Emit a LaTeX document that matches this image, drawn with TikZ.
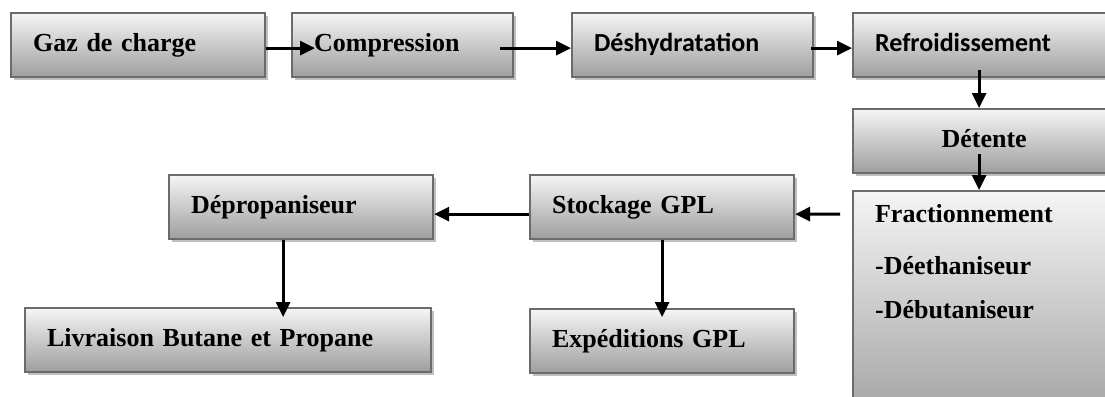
\documentclass[tikz,border=0pt]{standalone}
\usepackage{fontspec}
\setmainfont{Liberation Serif}
\newfontfamily\calibfont{Carlito}
\usetikzlibrary{arrows.meta,shadows}
\tikzset{
  procbox/.style={rectangle, draw=black!58, line width=2.2pt, top color=black!4, bottom color=black!38,
    drop shadow={shadow xshift=3pt, shadow yshift=-3pt, fill=black!25, opacity=1},
    anchor=north west, inner xsep=22pt, inner ysep=0pt, minimum height=64pt, align=left,
    font=\fontsize{26}{31}\selectfont\bfseries},
  textrow/.style={text height=18pt, text depth=6pt},
  flow/.style={line width=3pt, -{Triangle[length=15pt,width=14pt]}}
}
\begin{document}
\begin{tikzpicture}[x=1pt,y=-1pt]
\fill[white] (0,0) rectangle (1105,396);
\useasboundingbox (0,0) rectangle (1105,396);
\node[procbox, textrow, text width=210pt] (gaz) at (10,12) {Gaz de charge};
\node[procbox, textrow, text width=177pt] (comp) at (291,12) {Compression};
\node[procbox, textrow, text width=197pt] (deshy) at (571,12) {\calibfont Déshydratation};
\node[procbox, textrow, text width=218pt] (refr) at (852,12) {\calibfont Refroidissement};
\node[procbox, textrow, text width=218pt, align=center] (det) at (852,108) {Détente};
\node[procbox, inner ysep=13pt] (fract) at (852,190) {\parbox[c][214pt][t]{218pt}{Fractionnement\\[21pt]-Déethaniseur\\[13pt]-Débutaniseur}};
\node[procbox, textrow, text width=220pt] (stock) at (529,174) {Stockage GPL};
\node[procbox, textrow, text width=220pt] (deprop) at (168,174) {Dépropaniseur};
\node[procbox, textrow, text width=362pt] (livr) at (24,307) {Livraison Butane et Propane};
\node[procbox, textrow, text width=220pt] (exped) at (529,308) {Expéditions GPL};
\draw[flow] ([yshift=-3pt]gaz.east) -- ([xshift=24pt,yshift=-3pt]comp.west);
\draw[flow] ([xshift=-14pt,yshift=-3pt]comp.east) -- ([yshift=-3pt]deshy.west);
\draw[flow] ([xshift=-3pt,yshift=-3pt]deshy.east) -- ([yshift=-3pt]refr.west);
\draw[flow] ([xshift=-5pt,yshift=8pt]refr.south) -- ([xshift=-5pt]det.north);
\draw[flow] ([xshift=-5pt,yshift=20pt]det.south) -- ([xshift=-5pt]fract.north);
\draw[flow] ([xshift=-12pt,yshift=-24pt]fract.north west) -- ([yshift=-7pt]stock.east);
\draw[flow] ([yshift=-7pt]stock.west) -- ([yshift=-7pt]deprop.east);
\draw[flow] ([xshift=-18pt]deprop.south) -- ([xshift=55pt,yshift=-10pt]livr.north);
\draw[flow] (stock.south) -- ([yshift=-9pt]exped.north);
\end{tikzpicture}
\end{document}
